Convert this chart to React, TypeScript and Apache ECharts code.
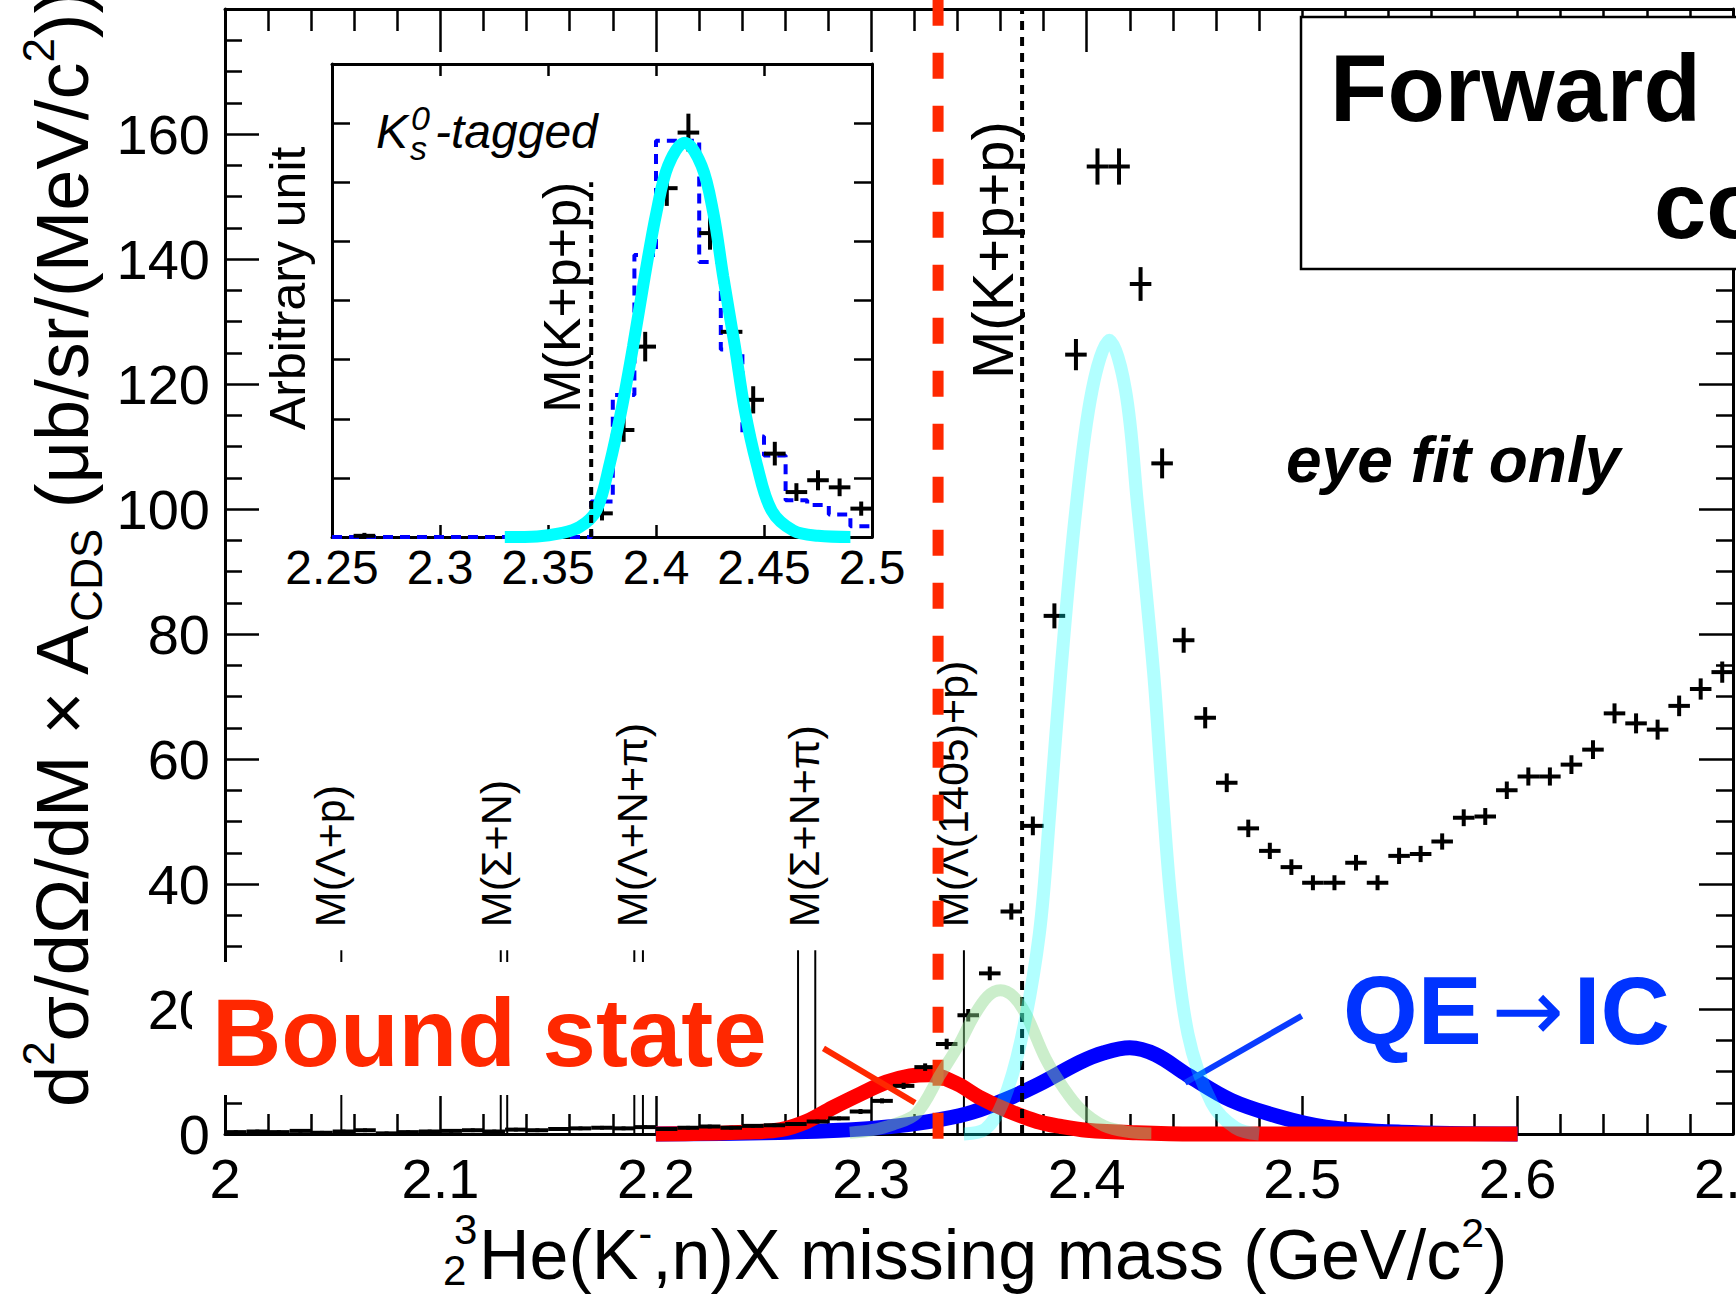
import React, { useEffect, useRef } from 'react';
import * as echarts from 'echarts';

const W = 1736;
const H = 1297;
const FONT = '"Liberation Sans", Arial, Helvetica, sans-serif';

// ---- Forward-neutron missing-mass spectrum: bin centre (GeV/c^2), value, error
const SPEC_X = [
  2.005, 2.015, 2.025, 2.035, 2.045, 2.055, 2.065, 2.075, 2.085, 2.095,
  2.105, 2.115, 2.125, 2.135, 2.145, 2.155, 2.165, 2.175, 2.185, 2.195,
  2.205, 2.215, 2.225, 2.235, 2.245, 2.255, 2.265, 2.275,
  2.285, 2.295, 2.305, 2.315, 2.325, 2.335, 2.345, 2.355, 2.365, 2.375,
  2.385, 2.395, 2.405, 2.415, 2.425, 2.435, 2.445, 2.455, 2.465, 2.475,
  2.485, 2.495, 2.505, 2.515, 2.525, 2.535, 2.545, 2.555, 2.565, 2.575,
  2.585, 2.595, 2.605, 2.615, 2.625, 2.635, 2.645, 2.655, 2.665, 2.675,
  2.685, 2.695,
];
const SPEC_Y = [
  0.3, 0.4, 0.3, 0.5, 0.2, 0.4, 0.6, 0.1, 0.3, 0.4,
  0.5, 0.6, 0.4, 0.7, 0.6, 0.8, 0.9, 1.0, 0.9, 1.1,
  0.8, 1.0, 1.2, 1.0, 1.3, 1.4, 1.6, 2.0,
  2.5, 3.6, 5.3, 7.7, 10.7, 14.4, 19.0, 25.7, 35.6, 49.3,
  82.9, 124.7, 154.8, 154.8, 136.0, 107.3, 79.0, 66.6, 56.2, 48.9,
  45.3, 42.7, 40.2, 40.2, 43.4, 40.2, 44.5, 44.8, 46.8, 50.6,
  50.8, 55.0, 57.2, 57.2, 59.1, 61.5, 67.3, 65.7, 64.7, 68.5,
  71.2, 73.9,
];
const SPEC_ERR = [
  0.3, 0.3, 0.3, 0.3, 0.3, 0.3, 0.3, 0.3, 0.3, 0.3,
  0.3, 0.3, 0.3, 0.3, 0.3, 0.3, 0.3, 0.3, 0.3, 0.3,
  0.3, 0.3, 0.3, 0.3, 0.3, 0.3, 0.3, 0.3,
  0.3, 0.4, 0.4, 0.5, 0.6, 0.85, 1.0, 1.1, 1.3, 1.5,
  2.0, 2.5, 2.9, 2.9, 2.7, 2.4, 2.0, 1.7, 1.5, 1.4,
  1.3, 1.25, 1.2, 1.2, 1.25, 1.2, 1.3, 1.3, 1.3, 1.35,
  1.35, 1.4, 1.45, 1.45, 1.5, 1.5, 1.6, 1.6, 1.6, 1.65,
  1.7, 1.7,
];
const BIN_HALF = 0.005;

// ---- Eye-fit components
const BOUND_X = [2.2, 2.222, 2.242, 2.258, 2.27, 2.282, 2.295, 2.307, 2.318, 2.327, 2.34, 2.35, 2.363, 2.377, 2.388, 2.4, 2.423, 2.45, 2.5, 2.55, 2.6];
const BOUND_Y = [0.0, 0.1, 0.3, 0.7, 2.0, 4.2, 6.4, 8.3, 9.3, 9.5, 8.0, 5.9, 3.8, 2.0, 1.2, 0.6, 0.2, 0.0, 0.0, 0.0, 0.0];

const QE_X = [2.2, 2.25, 2.285, 2.3, 2.317, 2.332, 2.347, 2.363, 2.378, 2.397, 2.408, 2.42, 2.432, 2.447, 2.467, 2.489, 2.511, 2.546, 2.6];
const QE_Y = [0.0, 0.2, 0.6, 0.9, 1.5, 2.3, 3.5, 5.6, 8.0, 11.5, 13.0, 13.8, 12.7, 9.4, 5.4, 2.8, 1.1, 0.3, 0.0];

const L1405_X = [2.29, 2.3, 2.31, 2.321, 2.332, 2.341, 2.347, 2.354, 2.36, 2.366, 2.372, 2.381, 2.389, 2.397, 2.408, 2.42, 2.43];
const L1405_Y = [0.2, 0.6, 1.5, 3.3, 9.5, 14.5, 18.5, 22.0, 23.0, 22.0, 19.0, 12.0, 7.5, 4.0, 1.3, 0.3, 0.1];

const KPP_X = [2.343, 2.353, 2.361, 2.3695, 2.378, 2.383, 2.388, 2.395, 2.4025, 2.4105, 2.418, 2.4235, 2.431, 2.435, 2.4395, 2.447, 2.458, 2.469, 2.48];
const KPP_Y = [0, 0.8, 5, 15, 32, 52, 74, 100, 119, 127, 119, 101, 74, 55, 36, 16, 5, 1, 0];

// ---- Kinematic thresholds (GeV/c^2)
const THRESH_LABELS = ['M(Λ+p)', 'M(Σ+N)', 'M(Λ+N+π)', 'M(Σ+N+π)', 'M(Λ(1405)+p)'];
const THRESH_MASSES = [[2.054], [2.128, 2.131], [2.19, 2.194], [2.266, 2.274], [2.343]];
const THRESH_TOP = 29.4;
const M_KPP = 2.37;
const M_BOUND = 2.331;

// ---- Inset: K0s-tagged spectrum
const INSET_X = [2.265, 2.375, 2.385, 2.395, 2.405, 2.415, 2.425, 2.435, 2.445, 2.455, 2.465, 2.475, 2.485, 2.495];
const INSET_Y = [0.02, 0.4, 1.81, 3.22, 5.9, 6.84, 5.14, 3.47, 2.32, 1.41, 0.76, 0.96, 0.84, 0.48];
const INSET_ERR = [0.05, 0.12, 0.2, 0.25, 0.3, 0.32, 0.28, 0.25, 0.23, 0.2, 0.15, 0.17, 0.15, 0.12];
// simulated histogram, 0.01 GeV bins starting at 2.25
const INSET_HIST_START = 2.25;
const INSET_HIST = [0, 0, 0, 0, 0, 0, 0, 0, 0, 0, 0, 0, 0.6, 2.4, 4.77, 6.7, 6.7, 4.65, 3.17, 1.7, 1.38, 0.62, 0.54, 0.38, 0.18];
const INSET_FIT_X = [2.33, 2.345, 2.3554, 2.3647, 2.3724, 2.3786, 2.384, 2.3894, 2.3948, 2.4002, 2.4056, 2.4133, 2.4211, 2.4265, 2.4311, 2.4365, 2.4411, 2.4466, 2.4535, 2.4635, 2.475, 2.49];
const INSET_FIT_Y = [0, 0.01, 0.06, 0.17, 0.45, 1.24, 2.15, 3.23, 4.41, 5.49, 6.28, 6.67, 6.28, 5.49, 4.41, 3.23, 2.15, 1.24, 0.45, 0.11, 0.02, 0];

const pairs = (xs: number[], ys: number[]) => xs.map((x, i) => [x, ys[i]]);
const fmt = (v: number) => String(Math.round(v * 100) / 100);

function crossRenderer(halfBin: number, lw: number) {
  return (_p: any, api: any) => {
    const x = api.value(0);
    const y = api.value(1);
    const e = api.value(2);
    const l = api.coord([x - halfBin, y]);
    const r = api.coord([x + halfBin, y]);
    const t = api.coord([x, y + e]);
    const b = api.coord([x, y - e]);
    return {
      type: 'group',
      children: [
        { type: 'line', shape: { x1: l[0], y1: l[1], x2: r[0], y2: r[1] }, style: { stroke: '#000', lineWidth: lw } },
        { type: 'line', shape: { x1: t[0], y1: t[1], x2: b[0], y2: b[1] }, style: { stroke: '#000', lineWidth: lw } },
      ],
    };
  };
}

function frameAxis(extra: any) {
  return {
    type: 'value',
    axisLine: { onZero: false, lineStyle: { color: '#000', width: 3 } },
    splitLine: { show: false },
    minorSplitLine: { show: false },
    ...extra,
  };
}

const tick = (len: number) => ({ inside: true, length: len, lineStyle: { color: '#000', width: 2.5 } });
const minor = (split: number, len: number) => ({ show: true, splitNumber: split, length: len, lineStyle: { color: '#000', width: 2.5 } });

function lineSeries(data: number[][], xi: number, color: string, width: number, z: number, extra: any = {}) {
  return {
    type: 'line',
    xAxisIndex: xi,
    yAxisIndex: xi,
    data,
    showSymbol: false,
    symbol: 'none',
    silent: true,
    clip: false,
    z,
    lineStyle: { color, width, ...(extra.lineStyle || {}) },
    ...Object.fromEntries(Object.entries(extra).filter(([k]) => k !== 'lineStyle')),
  };
}

function buildOption() {
  const spec = SPEC_X.map((x, i) => [x, SPEC_Y[i], SPEC_ERR[i]]);
  const inset = INSET_X.map((x, i) => [x, INSET_Y[i], INSET_ERR[i]]);
  const thresholds: number[][] = [];
  THRESH_MASSES.forEach((ms) => ms.forEach((m) => thresholds.push([m, THRESH_TOP])));
  const hist = INSET_HIST.map((v, i) => [INSET_HIST_START + 0.01 * i, v]);
  hist.push([INSET_HIST_START + 0.01 * INSET_HIST.length, INSET_HIST[INSET_HIST.length - 1]]);

  const labelStyle = { fontFamily: FONT, color: '#000' };

  return {
    animation: false,
    backgroundColor: '#fff',
    grid: [
      { left: 225, right: 3, top: 9, bottom: 163, containLabel: false, outerBoundsMode: 'none' },
      { left: 332, width: 540, top: 64, height: 473, containLabel: false, outerBoundsMode: 'none' },
    ],
    xAxis: [
      frameAxis({
        gridIndex: 0, min: 2, max: 2.7, interval: 0.1, position: 'bottom',
        axisTick: tick(38), minorTick: minor(5, 20),
        axisLabel: { ...labelStyle, fontSize: 56, margin: 16, formatter: fmt, showMaxLabel: true },
      }),
      frameAxis({
        gridIndex: 0, min: 2, max: 2.7, interval: 0.1, position: 'top',
        axisTick: tick(43), minorTick: minor(5, 22), axisLabel: { show: false },
      }),
      frameAxis({
        gridIndex: 1, min: 2.25, max: 2.5, interval: 0.05, position: 'bottom',
        axisTick: tick(12),
        axisLabel: { ...labelStyle, fontSize: 48, margin: 6, formatter: fmt, showMaxLabel: true, showMinLabel: true },
      }),
      frameAxis({
        gridIndex: 1, min: 2.25, max: 2.5, interval: 0.05, position: 'top',
        axisTick: tick(12), axisLabel: { show: false },
      }),
    ],
    yAxis: [
      frameAxis({
        gridIndex: 0, min: 0, max: 180, interval: 20, position: 'left',
        axisTick: tick(34), minorTick: minor(4, 17),
        axisLabel: { ...labelStyle, fontSize: 56, margin: 15, formatter: (v: number) => (v >= 180 ? '' : String(v)) },
      }),
      frameAxis({
        gridIndex: 0, min: 0, max: 180, interval: 20, position: 'right',
        axisTick: tick(34), minorTick: minor(4, 17), axisLabel: { show: false },
      }),
      frameAxis({
        gridIndex: 1, min: 0, max: 8, interval: 1, position: 'left',
        axisTick: tick(18), axisLabel: { show: false },
      }),
      frameAxis({
        gridIndex: 1, min: 0, max: 8, interval: 1, position: 'right',
        axisTick: tick(18), axisLabel: { show: false },
      }),
    ],
    series: [
      // 0: measured spectrum
      {
        type: 'custom', xAxisIndex: 0, yAxisIndex: 0, z: 5, silent: true,
        encode: { x: 0, y: 1 }, data: spec, renderItem: crossRenderer(BIN_HALF, 4),
      },
      // 1: threshold markers
      {
        type: 'custom', xAxisIndex: 0, yAxisIndex: 0, z: 2, silent: true,
        encode: { x: 0, y: 1 }, data: thresholds,
        renderItem: (_p: any, api: any) => {
          const x = api.value(0);
          const a = api.coord([x, api.value(1)]);
          const b = api.coord([x, 0]);
          return { type: 'line', shape: { x1: a[0], y1: a[1], x2: b[0], y2: b[1] }, style: { stroke: '#000', lineWidth: 2 } };
        },
      },
      // 2: quasi-elastic → IC component
      lineSeries(pairs(QE_X, QE_Y), 0, '#0000ff', 15, 3, { smooth: 0.35 }),
      // 3: bound-state component
      lineSeries(pairs(BOUND_X, BOUND_Y), 0, '#ff0000', 15, 4, { smooth: 0.35 }),
      // 4: Λ(1405)+p component
      lineSeries(pairs(L1405_X, L1405_Y), 0, 'rgba(140, 218, 140, 0.45)', 12, 9, { smooth: 0.35 }),
      // 5: K+p+p threshold peak
      lineSeries(pairs(KPP_X, KPP_Y), 0, 'rgba(0, 255, 255, 0.3)', 13, 9, { smooth: 0.35 }),
      // 6: M(K+p+p) line
      lineSeries([[M_KPP, 0], [M_KPP, 180]], 0, '#000', 4, 7, { lineStyle: { type: [9, 7] } }),
      // 7: bound-state mass line
      lineSeries([[M_BOUND, 181.5], [M_BOUND, -2.7]], 0, '#ff2800', 11, 8, { lineStyle: { type: [26, 27] } }),
      // 8, 9: label pointers
      lineSeries([[2.2778, 13.7], [2.3203, 5.0]], 0, '#ff2800', 6, 8),
      lineSeries([[2.4998, 18.9], [2.4457, 8.2]], 0, '#0a3cff', 6, 8),
      // 10: inset simulated histogram
      lineSeries(hist, 2, '#0000ff', 4, 3, { step: 'end', lineStyle: { type: [10, 7] } }),
      // 11: inset data
      {
        type: 'custom', xAxisIndex: 2, yAxisIndex: 2, z: 4, silent: true,
        encode: { x: 0, y: 1 }, data: inset, renderItem: crossRenderer(BIN_HALF, 4),
      },
      // 12: inset fit
      lineSeries(pairs(INSET_FIT_X, INSET_FIT_Y), 2, '#00ffff', 12, 5, { smooth: 0.35 }),
      // 13: inset M(K+p+p) line
      lineSeries([[M_KPP, 0], [M_KPP, 6]], 2, '#000', 4, 6, { lineStyle: { type: [8, 6] } }),
    ],
  };
}

function vtext(text: string, cx: number, foot: number, size: number, z = 1) {
  return {
    type: 'text', x: cx, y: foot, rotation: Math.PI / 2, z,
    style: {
      text, fontSize: size, fontFamily: FONT, fill: '#000',
      align: 'left', verticalAlign: 'middle', textAlign: 'left', textVerticalAlign: 'middle',
    },
  };
}

function htext(text: string, x: number, cy: number, size: number, opts: any = {}, z = 30) {
  return {
    type: 'text', x, y: cy, z,
    style: {
      text, fontSize: size, fontFamily: FONT, fill: '#000',
      align: 'left', verticalAlign: 'middle', textAlign: 'left', textVerticalAlign: 'middle',
      ...opts,
    },
  };
}

function buildGraphic(chart: any) {
  const P = (pt: number[]) => chart.convertToPixel({ seriesIndex: 0 }, pt) as number[];
  const Q = (pt: number[]) => chart.convertToPixel({ seriesIndex: 11 }, pt) as number[];
  const els: any[] = [];

  // threshold names, reading upward, sitting just left of their lines
  THRESH_LABELS.forEach((label, i) => {
    const p = P([Math.max(...THRESH_MASSES[i]), 33.1]);
    els.push(vtext(label, p[0] - 11, p[1], 43));
  });
  const k = P([M_KPP, 120.8]);
  els.push(vtext('M(K+p+p)', k[0] - 30, k[1], 58));
  const ki = Q([M_KPP, 2.1]);
  els.push(vtext('M(K+p+p)', ki[0] - 29, ki[1], 52, 7));

  // inset annotations
  els.push(vtext('Arbitrary unit', 288, 430, 50));
  els.push(htext('K', 376, 131, 48, { fontStyle: 'italic' }));
  els.push(htext('0', 411, 118, 34, { fontStyle: 'italic' }));
  els.push(htext('s', 410, 148, 34, { fontStyle: 'italic' }));
  els.push(htext('-tagged', 435, 131, 48, { fontStyle: 'italic' }));

  // bound-state label on a white patch
  els.push({ type: 'rect', z: 20, shape: { x: 192, y: 962, width: 598, height: 133 }, style: { fill: '#fff' } });
  els.push(htext('Bound state', 212, 1032, 96, { fontWeight: 'bold', fill: '#ff2800' }, 21));

  // QE → IC label
  els.push({
    type: 'text', x: 1343, y: 1010, z: 21,
    style: {
      text: '{b|QE}{a|→}{b|IC}', align: 'left', verticalAlign: 'middle', textAlign: 'left', textVerticalAlign: 'middle',
      rich: {
        b: { fontSize: 96, fontWeight: 'bold', fontFamily: FONT, fill: '#0033ff', color: '#0033ff', lineHeight: 110, verticalAlign: 'middle' },
        a: { fontSize: 86, fontFamily: 'DejaVu Sans, ' + FONT, fill: '#0033ff', color: '#0033ff', lineHeight: 110, verticalAlign: 'middle', padding: [0, 10, 0, 10] },
      },
    },
  });

  els.push(htext('eye fit only', 1286, 460, 64, { fontWeight: 'bold', fontStyle: 'italic' }));

  // detector box
  els.push({ type: 'rect', z: 25, shape: { x: 1301, y: 17, width: 500, height: 252 }, style: { fill: '#fff', stroke: '#000', lineWidth: 2.5 } });
  els.push(htext('Forward', 1330, 88, 94, { fontWeight: 'bold' }, 26));
  els.push(htext('co', 1654, 205, 94, { fontWeight: 'bold' }, 26));

  // axis titles
  els.push({
    type: 'text', x: 62, y: 1107, rotation: Math.PI / 2, z: 30,
    style: {
      text: '{m|d}{sp|2}{m|σ/dΩ/dM × A}{sb|CDS}{m| (μb/sr/(MeV/c}{sp|2}{m|))}',
      align: 'left', verticalAlign: 'middle', textAlign: 'left', textVerticalAlign: 'middle',
      rich: {
        m: { fontSize: 74, fontFamily: FONT, fill: '#000', color: '#000', lineHeight: 92, verticalAlign: 'middle' },
        sp: { fontSize: 44, fontFamily: FONT, fill: '#000', color: '#000', lineHeight: 44, verticalAlign: 'top' },
        sb: { fontSize: 44, fontFamily: FONT, fill: '#000', color: '#000', lineHeight: 44, verticalAlign: 'bottom' },
      },
    },
  });
  els.push(htext('3', 454, 1229, 42));
  els.push(htext('2', 443, 1270, 42));
  els.push({
    type: 'text', x: 479, y: 1255, z: 30,
    style: {
      text: '{m|He(K}{sp|-}{m|,n)X missing mass (GeV/c}{sp|2}{m|)}',
      align: 'left', verticalAlign: 'middle', textAlign: 'left', textVerticalAlign: 'middle',
      rich: {
        m: { fontSize: 70, fontFamily: FONT, fill: '#000', color: '#000', lineHeight: 86, verticalAlign: 'middle' },
        sp: { fontSize: 41, fontFamily: FONT, fill: '#000', color: '#000', lineHeight: 41, verticalAlign: 'top' },
      },
    },
  });

  return { elements: els };
}

export default function App() {
  const ref = useRef<HTMLDivElement>(null);
  useEffect(() => {
    if (!ref.current) return;
    const chart = echarts.init(ref.current, undefined, { renderer: 'svg', width: W, height: H });
    chart.setOption(buildOption() as any);
    chart.setOption({ graphic: buildGraphic(chart) } as any);
    return () => chart.dispose();
  }, []);
  return (
    <div
      ref={ref}
      style={{ position: 'absolute', left: 0, top: 0, width: W, height: H, background: '#fff', overflow: 'hidden' }}
    />
  );
}
